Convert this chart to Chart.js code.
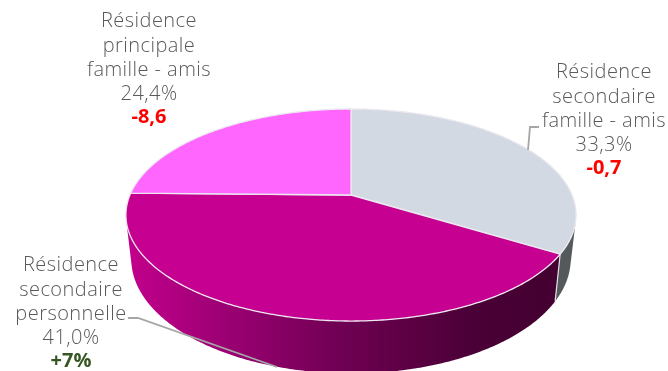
<!DOCTYPE html>
<html lang="fr">
<head>
<meta charset="utf-8">
<style>
html,body{margin:0;padding:0;background:#fff;overflow:hidden}
canvas{display:block}
</style>
<script src="https://cdn.jsdelivr.net/npm/chart.js@4"></script>
</head>
<body>
<canvas id="pie" width="668" height="371"></canvas>
<script>
// Répartition des nuitées par type de résidence
const categories = [
  ["Résidence", "secondaire", "famille - amis"],
  ["Résidence", "secondaire", "personnelle"],
  ["Résidence", "principale", "famille - amis"]
];
const shares = [33.3, 41.0, 24.4];
const shareLabels = ["33,3%", "41,0%", "24,4%"];
const deltas = ["-0,7", "+7%", "-8,6"];

const faceColours = ["#d3d9e2", "#c60090", "#fe66fe"];
const deltaColours = ["#ff0000", "#375623", "#ff0000"];

// Perspective of the tilted disc
const TILT = { sx: 1.256, sy: 0.581, k: -0.1887, depth: 0.2415, shrink: 0.976 };
const FONT = '"Open Sans", sans-serif';
const LINE_STEP = 24.4;
const labelAnchors = [
  { x: 604, y: 72.5 },
  { x: 71, y: 265.5 },
  { x: 149, y: 21.5 }
];
const leaders = [
  [[528, 150], [530, 127], [539, 127]],
  [[128, 318], [138, 318], [277, 367]]
];

function project(el, angle, lower) {
  const u = Math.cos(angle), v = Math.sin(angle);
  const d = 1 + TILT.k * v, R = el.outerRadius;
  let X = R * TILT.sx * u / d;
  let Y = R * TILT.sy * v / d;
  if (lower) {
    X *= TILT.shrink;
    Y += R * TILT.depth / d;
  }
  return [el.x + X, el.y + Y];
}

function traceRim(ctx, el, from, to, first) {
  const n = Math.max(4, Math.ceil(Math.abs(to - from) / 0.01));
  for (let i = 0; i <= n; i++) {
    const p = project(el, from + (to - from) * i / n, false);
    if (i === 0 && first) ctx.moveTo(p[0], p[1]); else ctx.lineTo(p[0], p[1]);
  }
}

function signedArea(q) {
  let s = 0;
  q.forEach((p, i) => {
    const r = q[(i + 1) % q.length];
    s += p[0] * r[1] - r[0] * p[1];
  });
  return s;
}

// One slice's wall, swept as quads of equal winding in a single path so the
// outline follows the silhouette and fills as one shape
function drawWall(ctx, el, fill) {
  const n = Math.ceil((el.endAngle - el.startAngle) / 0.01);
  ctx.beginPath();
  for (let i = 0; i < n; i++) {
    const a0 = el.startAngle + (el.endAngle - el.startAngle) * i / n;
    const a1 = el.startAngle + (el.endAngle - el.startAngle) * (i + 1) / n;
    const q = [project(el, a0, false), project(el, a1, false), project(el, a1, true), project(el, a0, true)];
    if (signedArea(q) < 0) q.reverse();
    q.forEach((p, j) => j ? ctx.lineTo(p[0], p[1]) : ctx.moveTo(p[0], p[1]));
    ctx.closePath();
  }
  ctx.fillStyle = fill;
  ctx.fill();
}

function wallFill(ctx, index) {
  const g = ctx.createLinearGradient(128, 0, 560, 0);
  if (index === 0) {
    g.addColorStop(0, "#54595c");
    g.addColorStop(1, "#54595c");
    return g;
  }
  g.addColorStop(0, "#c2008c");
  g.addColorStop(0.2, "#a00076");
  g.addColorStop(0.5, "#6e0052");
  g.addColorStop(0.8, "#4a0036");
  g.addColorStop(1, "#430030");
  return g;
}

const tiltedPie = {
  id: "tiltedPie",
  beforeDatasetDraw(chart) {
    const ctx = chart.ctx;
    const arcs = chart.getDatasetMeta(0).data;

    // Side walls, back to front
    ctx.save();
    [0, 1].forEach(i => drawWall(ctx, arcs[i], wallFill(ctx, i)));

    // Seam between the two visible walls
    const seam = arcs[0].endAngle;
    const a = project(arcs[0], seam, false), b = project(arcs[0], seam, true);
    ctx.beginPath();
    ctx.moveTo(a[0], a[1]);
    ctx.lineTo(b[0], b[1]);
    ctx.strokeStyle = "#dfe2e6";
    ctx.lineWidth = 1.2;
    ctx.stroke();

    // Top faces
    arcs.forEach((el, i) => {
      ctx.beginPath();
      ctx.moveTo(el.x, el.y);
      traceRim(ctx, el, el.startAngle, el.endAngle, false);
      ctx.closePath();
      ctx.fillStyle = faceColours[i];
      ctx.fill();
      ctx.strokeStyle = "#eceaf0";
      ctx.lineWidth = 1.3;
      ctx.lineJoin = "round";
      ctx.stroke();
    });
    ctx.restore();
    return false;
  },
  afterDatasetsDraw(chart) {
    const ctx = chart.ctx;
    ctx.save();

    // Leader lines
    ctx.strokeStyle = "#a6a6a6";
    ctx.lineWidth = 1.8;
    leaders.forEach(path => {
      ctx.beginPath();
      path.forEach((p, i) => i ? ctx.lineTo(p[0], p[1]) : ctx.moveTo(p[0], p[1]));
      ctx.stroke();
    });

    // Data labels
    ctx.textAlign = "center";
    ctx.textBaseline = "middle";
    categories.forEach((lines, i) => {
      const pos = labelAnchors[i];
      ctx.font = "300 20px " + FONT;
      ctx.letterSpacing = "0.45px";
      ctx.fillStyle = "#595959";
      lines.concat(shareLabels[i]).forEach((line, j) => {
        ctx.fillText(line, pos.x, pos.y + j * LINE_STEP);
      });
      ctx.font = "bold 20px " + FONT;
      ctx.letterSpacing = "0px";
      ctx.fillStyle = deltaColours[i];
      ctx.fillText(deltas[i], pos.x, pos.y + 4 * LINE_STEP - 1.5);
    });
    ctx.restore();
  }
};

new Chart(document.getElementById("pie"), {
  type: "pie",
  data: {
    labels: categories.map(c => c.join(" ")),
    datasets: [{ data: shares, backgroundColor: faceColours, borderWidth: 0 }]
  },
  options: {
    responsive: false,
    animation: false,
    layout: { padding: { left: 34, top: 19 } },
    plugins: { legend: { display: false }, tooltip: { enabled: false } }
  },
  plugins: [tiltedPie]
});
</script>
</body>
</html>
